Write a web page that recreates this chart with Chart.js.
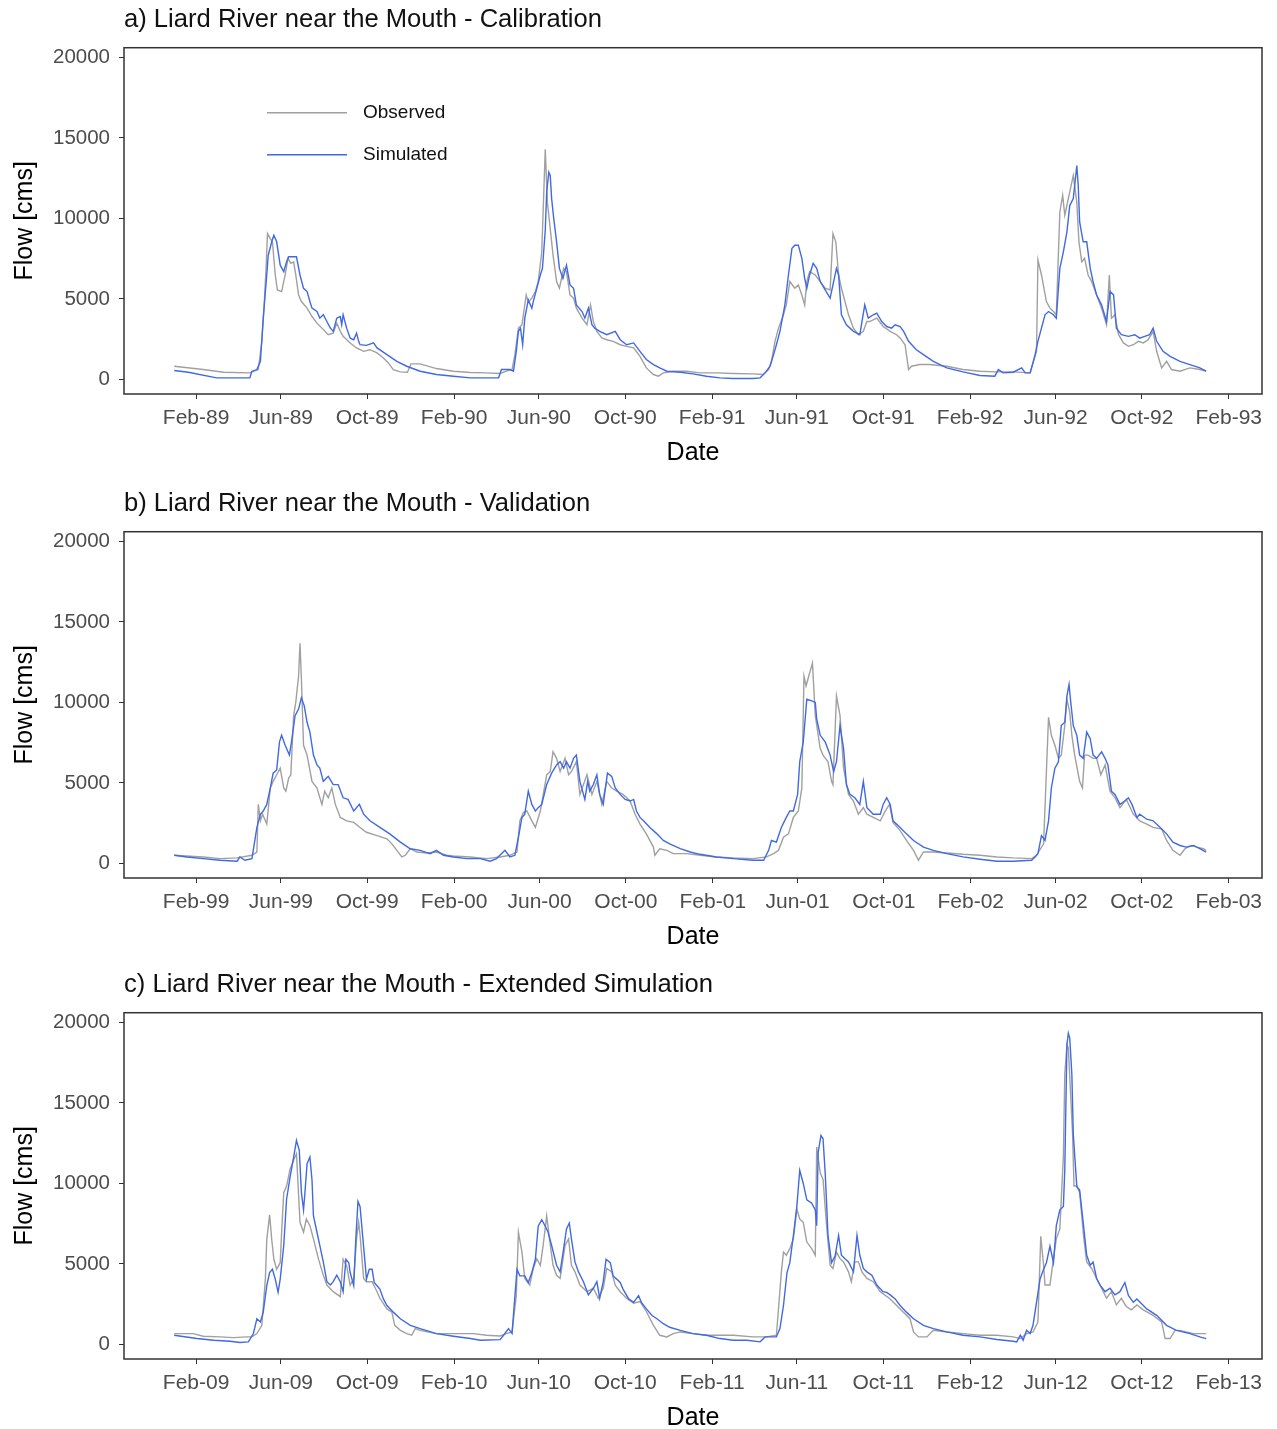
<!DOCTYPE html>
<html>
<head>
<meta charset="utf-8">
<title>Liard River near the Mouth</title>
<script src="https://cdn.jsdelivr.net/npm/chart.js@4.4.1/dist/chart.umd.min.js"></script>
<style>
  body { margin: 0; background: #fff; overflow: hidden; width: 1277px; height: 1429px; position: relative; }
  canvas { position: absolute; left: 0; }
</style>
</head>
<body>
<canvas id="calib" width="1277" height="484" style="top:0px"></canvas>
<canvas id="valid" width="1277" height="481" style="top:484px"></canvas>
<canvas id="ext" width="1277" height="464" style="top:965px"></canvas>
<script>
// Daily flow, Liard River near the Mouth [cms]
// x values are days since 1 January of each panel's first year

const flowTicks = [0, 5000, 10000, 15000, 20000];

// a) Calibration 1989-1992
const calibTicks = ['Feb-89','Jun-89','Oct-89','Feb-90','Jun-90','Oct-90','Feb-91','Jun-91','Oct-91','Feb-92','Jun-92','Oct-92','Feb-93'];
const calibObsDay = [
  0,41,70,107,119,124,127,130,132,136,
  139,143,146,152,157,161,165,169,172,176,
  180,188,195,202,209,218,225,230,235,239,
  249,258,268,277,287,296,303,310,320,330,
  335,348,371,395,419,442,461,470,478,482,
  487,492,498,501,506,511,515,520,525,528,
  532,536,541,545,551,555,560,565,569,577,
  584,589,593,598,605,612,621,631,640,650,
  659,668,678,685,692,706,725,744,767,791,
  819,833,841,845,850,855,862,866,871,878,
  883,888,892,895,899,907,914,921,928,932,
  936,940,944,949,954,961,968,975,980,984,
  994,1003,1013,1022,1027,1034,1039,1043,1055,1069,
  1093,1116,1140,1164,1187,1211,1220,1222,1227,1234,
  1239,1244,1248,1253,1257,1260,1265,1270,1272,1277,
  1280,1284,1288,1293,1298,1305,1312,1319,1323,1326,
  1331,1336,1343,1350,1357,1364,1371,1378,1385,1390,
  1397,1404,1411,1423,1437,1451,1460];
const calibObsFlow = [
  824,618,453,412,618,2370,4430,6900,9060,8750,
  8550,6490,5560,5460,6490,7520,7210,7310,6490,5250,
  4840,4430,3910,3500,3190,2780,2880,3500,2990,2680,
  2270,1960,1750,1850,1650,1340,1030,618,474,453,
  970,970,680,515,433,412,371,520,618,1545,
  3190,3400,5250,4800,5050,5460,6080,7900,14300,11000,
  9370,7725,6080,5665,6900,6700,5250,5050,4430,3810,
  3400,4635,3600,2990,2580,2470,2370,2160,2060,1960,
  1440,720,310,206,412,515,515,412,412,371,
  350,309,618,1130,2370,3190,4020,4635,6080,5665,
  5870,5250,4635,6080,6700,6490,6080,5665,5560,9060,
  8550,6490,5665,4840,4020,3190,2780,2990,3600,3600,
  3810,3290,2990,2780,2580,2160,618,824,927,927,
  824,618,515,474,474,412,1750,7420,6490,4840,
  4430,4220,4020,10400,11430,10200,11230,12260,12670,11000,
  8550,7310,7520,6490,6080,5250,4430,3400,6490,3810,
  4020,2780,2270,2060,2160,2370,2270,2470,2990,1750,
  720,1130,618,515,720,618,515];
const calibSimDay = [
  0,20,60,107,110,117,122,126,131,133,
  138,141,145,150,155,159,162,173,178,183,
  188,192,195,202,206,211,216,221,225,230,
  235,237,239,244,249,254,258,261,263,272,
  282,287,301,315,329,348,371,395,419,442,
  459,463,475,480,484,487,490,493,496,501,
  506,508,513,518,521,525,527,530,532,534,
  537,541,545,550,555,560,565,569,577,581,
  586,591,595,602,612,624,631,640,650,659,
  668,678,687,697,716,734,753,772,791,819,
  829,836,843,848,852,857,864,869,874,878,
  883,888,892,895,899,904,909,914,921,928,
  932,937,940,944,951,961,970,977,982,989,
  994,1001,1008,1015,1020,1027,1032,1039,1050,1060,
  1074,1093,1116,1140,1161,1166,1173,1187,1199,1204,
  1211,1218,1222,1227,1232,1237,1244,1248,1253,1258,
  1263,1267,1272,1277,1279,1281,1286,1291,1296,1300,
  1305,1312,1319,1324,1329,1333,1340,1350,1359,1366,
  1373,1380,1385,1390,1399,1409,1423,1437,1451,1460];
const calibSimFlow = [
  556,450,103,103,515,618,1130,3800,6500,7700,
  8550,8960,8550,7100,6700,7310,7620,7620,6490,5660,
  5460,4840,4430,4220,3810,4020,3600,3190,2990,3810,
  3910,3400,4020,3190,2570,2470,2880,2370,2160,2120,
  2270,1960,1545,1130,824,515,309,206,103,103,
  103,618,618,515,1750,2990,3190,2160,3810,4940,
  4430,4840,5660,6490,6900,9270,11640,12875,12670,11230,
  9990,8550,6900,6280,7100,5870,5660,4635,4220,3810,
  4430,3400,3190,2990,2780,2990,2470,2160,2270,1750,
  1240,927,720,515,453,350,206,103,60,60,
  103,412,824,1545,2160,2990,4635,6490,8140,8340,
  8340,7520,6280,5660,6490,7210,6900,6080,5560,5050,
  5870,6900,6490,4020,3400,2990,2780,4635,3810,4020,
  4120,3600,3290,3190,3400,3290,2990,2370,1850,1545,
  1130,720,474,250,206,618,412,453,720,412,
  412,1545,2370,3190,4020,4220,4020,3810,6900,7930,
  9170,10800,11230,13290,12050,9780,8550,8550,6900,6080,
  5250,4635,3600,5460,5250,3190,2780,2680,2780,2570,
  2680,2780,3190,2370,1750,1440,1130,927,720,515];

// b) Validation 1999-2002
const validTicks = ['Feb-99','Jun-99','Oct-99','Feb-00','Jun-00','Oct-00','Feb-01','Jun-01','Oct-01','Feb-02','Jun-02','Oct-02','Feb-03'];
const validObsDay = [
  0,41,65,89,110,117,119,122,125,131,
  136,140,145,150,155,158,162,165,169,172,
  176,178,180,183,188,195,202,209,213,218,
  223,228,235,244,254,263,272,287,301,308,
  315,322,327,334,343,357,371,386,395,419,
  442,461,475,485,489,494,499,506,511,518,
  527,532,536,541,546,553,558,562,569,574,
  584,591,598,605,612,619,626,635,645,652,
  659,668,678,680,687,697,706,725,744,767,
  791,819,838,848,855,862,869,876,883,888,
  891,894,899,903,907,914,918,925,930,932,
  937,942,947,954,961,968,975,980,989,999,
  1006,1012,1017,1027,1036,1046,1053,1060,1074,1093,
  1116,1140,1164,1187,1213,1220,1230,1237,1241,1246,
  1251,1255,1260,1263,1267,1270,1274,1281,1285,1288,
  1293,1300,1305,1311,1317,1324,1331,1338,1347,1357,
  1366,1376,1385,1397,1404,1413,1423,1430,1439,1447,
  1456,1460];
const validObsFlow = [
  510,408,306,347,510,714,3670,2650,3060,2450,
  4690,5100,5510,5920,4690,4490,5300,5510,9180,10000,
  11630,13670,11420,7340,6730,5100,4690,3670,4490,4080,
  4690,3670,2860,2650,2550,2240,1940,1730,1530,1220,
  816,408,510,918,714,653,714,510,469,408,
  306,408,510,714,2650,3160,3260,2650,2240,3260,
  5510,5710,6940,6530,5710,6530,5510,5710,6320,4290,
  5510,4290,5100,3670,5100,4690,4490,4290,3880,3060,
  2450,1840,1020,510,918,816,612,612,510,408,
  347,306,408,612,816,1630,1840,2860,3260,4690,
  11630,11020,11830,12440,9180,7140,6730,6320,5100,4900,
  10400,9180,5920,4290,3880,3060,3470,3060,2860,2650,
  3260,3670,2550,2040,1430,816,204,714,714,653,
  571,510,408,347,306,510,1220,9080,7960,7340,
  6530,6730,8570,10200,9380,7960,6730,5100,4690,6730,
  6730,6530,6530,5510,6120,4490,4080,3470,3980,3060,
  2650,2450,2240,2140,1430,816,510,918,1120,1020,
  918,816];
const validSimDay = [
  0,18,41,65,89,93,100,110,117,122,
  126,131,136,140,145,149,152,157,163,166,
  171,176,180,184,188,192,197,202,206,211,
  218,225,232,239,246,254,262,268,277,291,
  305,320,334,348,362,371,381,395,414,433,
  447,456,468,475,482,487,492,496,501,506,
  511,515,520,527,534,541,546,551,555,560,
  565,569,574,579,581,585,588,593,598,602,
  607,613,619,624,631,638,645,650,654,659,
  664,673,683,692,701,716,730,744,767,791,
  819,834,841,845,852,859,866,871,876,882,
  885,890,895,902,907,909,914,921,928,933,
  937,942,947,951,956,963,970,975,980,989,
  999,1003,1008,1013,1017,1027,1036,1046,1060,1074,
  1093,1116,1140,1164,1187,1213,1218,1222,1227,1232,
  1237,1241,1246,1251,1255,1260,1263,1266,1268,1272,
  1277,1281,1286,1291,1296,1300,1305,1312,1317,1321,
  1326,1331,1338,1345,1350,1355,1362,1366,1376,1385,
  1395,1404,1413,1423,1432,1442,1451,1460];
const validSimFlow = [
  510,408,306,204,143,408,204,306,2240,3060,
  3260,3670,4690,5610,5810,7550,7960,7340,6730,7550,
  9180,9590,10300,9790,8770,8160,6730,6120,5920,5100,
  5410,4900,4900,4080,3980,3260,3670,3060,2650,2240,
  1840,1330,918,816,612,816,510,408,306,306,
  143,306,816,408,510,1630,2860,3060,4490,3670,
  3260,3470,3670,4900,5610,6120,6320,5920,6320,5920,
  6530,6730,5100,4290,3980,5100,4490,4900,5510,4290,
  3670,5610,5410,4690,4290,3980,3880,3980,3260,2860,
  2650,2240,1840,1430,1220,918,714,571,408,306,
  204,204,816,1430,1330,2240,2860,3260,3260,4290,
  6320,7550,10200,10100,10000,8980,7960,7550,6730,5710,
  6320,8570,7140,4900,4290,4080,3670,5100,3470,3060,
  3060,3670,4080,3670,2650,2240,1840,1430,1020,816,
  612,408,265,143,143,204,408,612,1730,1430,
  2650,4690,5920,6320,8570,8770,10400,11120,10200,8570,
  7960,6730,6530,8160,7750,6730,6530,6940,6530,6120,
  4490,4290,3670,3880,4080,3670,2860,3060,2750,2650,
  2240,1840,1330,1120,1020,1120,918,714];

// c) Extended simulation 2009-2012
const extTicks = ['Feb-09','Jun-09','Oct-09','Feb-10','Jun-10','Oct-10','Feb-11','Jun-11','Oct-11','Feb-12','Jun-12','Oct-12','Feb-13'];
const extObsDay = [
  0,27,41,65,84,103,110,117,124,129,
  131,135,138,141,145,150,152,155,159,164,
  169,173,178,183,187,192,197,204,211,216,
  225,235,239,244,249,254,258,261,263,268,
  272,280,287,291,301,308,312,320,329,336,
  341,348,371,395,423,442,461,470,478,484,
  487,492,496,503,508,513,518,522,527,531,
  536,541,546,553,558,562,567,574,584,593,
  600,607,612,619,624,631,640,650,659,668,
  678,687,697,706,716,734,753,772,791,819,
  838,852,859,862,866,871,876,881,885,890,
  895,902,907,909,914,918,923,928,932,937,
  942,947,954,958,963,968,973,980,989,999,
  1013,1027,1041,1046,1053,1065,1074,1093,1116,1140,
  1164,1187,1197,1206,1215,1222,1226,1230,1232,1239,
  1244,1248,1253,1258,1260,1263,1265,1268,1271,1273,
  1277,1281,1287,1291,1298,1305,1312,1319,1326,1333,
  1340,1347,1354,1362,1371,1385,1397,1402,1409,1416,
  1423,1442,1460];
const extObsFlow = [
  677,677,512,471,430,471,471,677,1190,4060,
  6520,8050,6520,5290,4670,5080,6970,9430,9840,10900,
  11440,11840,7590,6970,7790,7380,6560,5330,4300,3690,
  3280,2970,5290,4880,3690,4100,6560,7590,6770,4100,
  3900,3900,3280,2870,2210,2010,1190,880,677,574,
  985,880,677,677,677,574,533,677,780,3050,
  6970,5740,4100,3690,4720,5330,4920,6150,7990,6560,
  4920,4300,4100,6150,6560,4920,4510,3690,3280,3490,
  2870,3490,4720,4510,3690,3280,2870,2560,2670,2050,
  1190,574,471,677,780,677,574,574,574,471,
  471,574,4490,5740,5540,5950,6560,8410,7790,7590,
  6360,5950,5540,12260,10660,10250,7380,4920,4720,5740,
  5330,5130,4510,3900,5130,5130,4510,4100,3900,3280,
  2830,2210,1600,780,471,471,880,780,677,574,
  574,471,369,677,780,1400,6720,4920,3690,3690,
  5330,6560,7180,11700,16810,18610,18410,15740,13080,9840,
  9840,9430,6560,5130,4720,4100,3490,2870,3280,2460,
  2870,2360,2150,2460,2150,1810,1400,369,369,880,
  880,677,677];
const extSimDay = [
  0,32,56,79,93,105,112,117,122,126,
  131,135,139,143,147,150,155,159,164,169,
  173,177,180,183,185,188,192,195,197,202,
  206,211,216,221,225,230,235,239,243,247,
  249,254,257,260,263,267,270,272,276,280,
  283,287,291,296,301,310,320,334,348,371,
  395,419,433,461,466,473,478,481,485,489,
  496,501,506,511,515,520,525,529,534,541,
  546,551,555,559,562,567,572,579,586,593,
  598,602,607,611,617,621,626,631,635,643,
  650,657,661,668,676,683,692,701,716,734,
  753,772,791,810,829,836,843,852,857,862,
  867,871,876,881,885,890,895,902,907,909,
  911,915,918,921,923,925,930,935,940,944,
  949,954,961,966,970,975,980,987,994,1003,
  1008,1013,1020,1027,1036,1046,1060,1074,1093,1116,
  1140,1164,1187,1192,1197,1201,1206,1211,1215,1220,
  1225,1230,1234,1239,1244,1248,1253,1258,1260,1263,
  1265,1267,1270,1272,1277,1281,1286,1291,1296,1300,
  1305,1310,1317,1324,1331,1338,1345,1350,1357,1362,
  1369,1376,1390,1404,1418,1437,1451,1460];
const extSimFlow = [
  574,369,266,205,123,164,677,1600,1400,2010,
  3650,4470,4670,4060,3240,4060,6150,9020,10410,11640,
  12670,12050,9430,8360,9430,11230,11640,10200,8000,6970,
  6150,5120,3900,3690,3900,4300,3900,3280,5290,5080,
  4470,3650,6560,8880,8560,6560,5080,4060,4670,4670,
  3860,3650,3440,2830,2420,2010,1600,1190,985,677,
  512,369,266,300,574,985,677,2420,4670,4260,
  4260,3850,4470,5290,7340,7750,7340,6970,6150,4920,
  4510,5950,7180,7540,6560,5130,4510,3900,3080,3490,
  3900,2870,3900,5290,5080,4260,4060,3850,3440,2830,
  2620,3030,2620,2210,1800,1600,1290,1070,880,677,
  574,369,266,266,164,471,471,471,985,2420,
  4470,5080,6770,8610,10820,10000,8980,8770,8360,7380,
  11890,12980,12770,10660,8770,6770,5080,5490,6770,5540,
  5330,5130,4510,6770,5540,4720,4510,4300,3690,3280,
  3240,3080,2830,2420,2010,1600,1190,985,780,574,
  471,308,205,164,574,266,882,677,1190,2620,
  4060,4670,5080,6110,5080,7380,8360,8570,10870,18610,
  19330,19020,16770,13080,9800,9590,7590,5540,4920,5120,
  4100,3690,3280,3490,3080,3280,3850,3050,2620,2830,
  2520,2210,1810,1190,880,677,471,369];

const MONTHS = ['Jan','Feb','Mar','Apr','May','Jun','Jul','Aug','Sep','Oct','Nov','Dec'];

// "Feb-89" -> days since 1 Jan of the panel's first year
function tickDay(label, startYear) {
  const [mon, yy] = label.split('-');
  const year = Number(yy) + (Number(yy) > 50 ? 1900 : 2000);
  return (Date.UTC(year, MONTHS.indexOf(mon), 1) - Date.UTC(startYear, 0, 1)) / 86400000;
}

function toPoints(days, flows) {
  if (days.length !== flows.length) throw new Error('series length mismatch: ' + days.length + ' vs ' + flows.length);
  return days.map((d, i) => ({ x: d, y: flows[i] }));
}

Chart.defaults.font.family = '"Liberation Sans", Arial, sans-serif';

// box round the plotting panel
const panelFrame = {
  id: 'panelFrame',
  afterDraw(chart) {
    const { ctx, chartArea: a } = chart;
    ctx.save();
    ctx.strokeStyle = '#333333';
    ctx.lineWidth = 1.5;
    ctx.strokeRect(a.left, a.top, a.right - a.left, a.bottom - a.top);
    ctx.restore();
  }
};

// key drawn inside the top-left of the panel
const insideLegend = {
  id: 'insideLegend',
  afterDatasetsDraw(chart, args, opts) {
    if (!opts.show) return;
    const { ctx, chartArea } = chart;
    const x0 = chartArea.left + 143;
    const y0 = chartArea.top + 65;
    ctx.save();
    ctx.font = '19px "Liberation Sans", Arial, sans-serif';
    ctx.textBaseline = 'middle';
    chart.data.datasets.forEach((ds, i) => {
      const y = y0 + i * 42;
      ctx.strokeStyle = ds.borderColor;
      ctx.lineWidth = ds.borderWidth;
      ctx.beginPath();
      ctx.moveTo(x0, y);
      ctx.lineTo(x0 + 80, y);
      ctx.stroke();
      ctx.fillStyle = '#111';
      ctx.fillText(ds.label, x0 + 96, y);
    });
    ctx.restore();
  }
};

function drawPanel(id, title, startYear, tickLabels, obs, sim, withLegend) {
  const canvas = document.getElementById(id);
  const tickValues = tickLabels.map(t => tickDay(t, startYear));
  return new Chart(canvas, {
    type: 'line',
    data: {
      datasets: [
        { label: 'Observed', data: obs, borderColor: '#a0a0a0', borderWidth: 1.4, pointRadius: 0, order: 1 },
        { label: 'Simulated', data: sim, borderColor: '#4169e1', borderWidth: 1.4, pointRadius: 0, order: 0 }
      ]
    },
    options: {
      responsive: false,
      animation: false,
      events: [],
      layout: { padding: { left: 0, right: 15, top: 0, bottom: canvas.height - 464 } },
      plugins: {
        legend: { display: false },
        tooltip: { enabled: false },
        title: {
          display: true, text: title, align: 'start', fullSize: false,
          color: '#111', font: { size: 25.6, weight: 'normal' },
          padding: { top: 5, bottom: 12 }
        },
        insideLegend: { show: withLegend }
      },
      scales: {
        x: {
          type: 'linear',
          min: -71, max: 1539,
          afterBuildTicks: s => { s.ticks = tickValues.map(v => ({ value: v })); },
          afterFit: s => { s.height = 70; },
          grid: { drawOnChartArea: false, tickLength: 5, color: '#333333' },
          border: { display: false },
          ticks: {
            autoSkip: false, maxRotation: 0, padding: 6.5,
            color: '#4d4d4d', font: { size: 21 },
            callback: (v, i) => tickLabels[i]
          },
          title: {
            display: true, text: 'Date', color: '#000',
            font: { size: 25, lineHeight: 0.88 }, padding: { top: 0, bottom: 0 }
          }
        },
        y: {
          min: -900, max: 20600,
          afterBuildTicks: s => { s.ticks = flowTicks.map(v => ({ value: v })); },
          afterFit: s => { s.width = 124; },
          grid: { drawOnChartArea: false, tickLength: 5, color: '#333333' },
          border: { display: false },
          ticks: {
            padding: 9, color: '#4d4d4d', font: { size: 20.5 },
            callback: v => String(v)
          },
          title: {
            display: true, text: 'Flow [cms]', color: '#000',
            font: { size: 25, lineHeight: 1 }, padding: { top: 13, bottom: 0 }
          }
        }
      }
    },
    plugins: [panelFrame, insideLegend]
  });
}

drawPanel('calib', 'a) Liard River near the Mouth - Calibration', 1989, calibTicks,
  toPoints(calibObsDay, calibObsFlow), toPoints(calibSimDay, calibSimFlow), true);
drawPanel('valid', 'b) Liard River near the Mouth - Validation', 1999, validTicks,
  toPoints(validObsDay, validObsFlow), toPoints(validSimDay, validSimFlow), false);
drawPanel('ext', 'c) Liard River near the Mouth - Extended Simulation', 2009, extTicks,
  toPoints(extObsDay, extObsFlow), toPoints(extSimDay, extSimFlow), false);
</script>
</body>
</html>
